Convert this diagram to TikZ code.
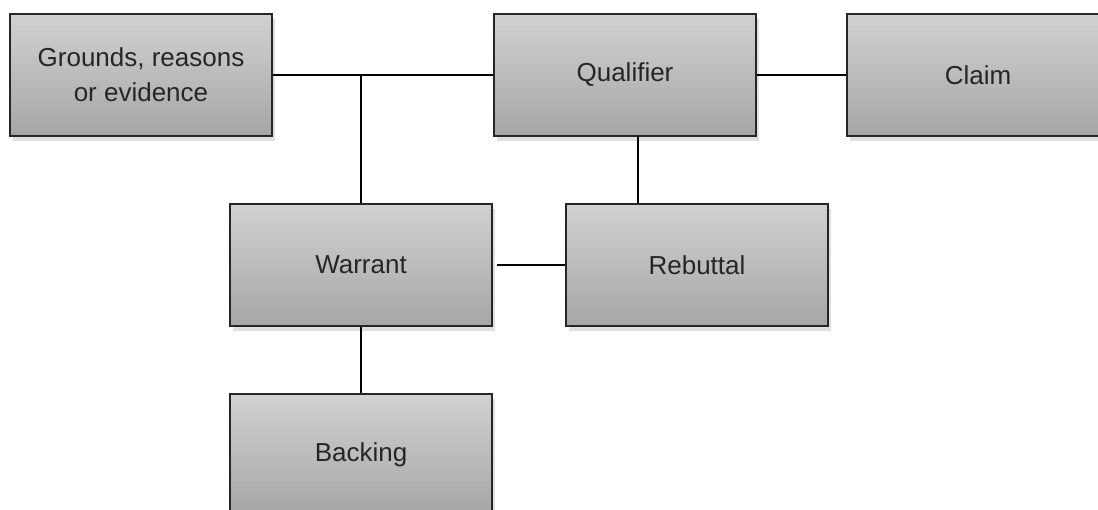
\documentclass[tikz,border=0pt]{standalone}
\usepackage{fontspec}
\setmainfont{Liberation Sans}
\usetikzlibrary{shadows}
\begin{document}
\begin{tikzpicture}[x=1pt,y=-1pt,
   box/.style={draw=black!85,line width=1.4pt,top color=black!18,bottom color=black!35,
      minimum width=262pt,minimum height=122pt,align=center,text=black!85,
      font=\fontsize{26}{35}\selectfont,
      drop shadow={shadow xshift=3pt,shadow yshift=-5pt,opacity=0.25}},
   link/.style={line width=1.4pt}]
   % 範囲
   \useasboundingbox (0,0) rectangle (1098,510);

   % 箱
   \node[box] (grounds) at (141,75) {Grounds, reasons\\or evidence};
   \node[box] (qualifier) at (625,75) {Qualifier};
   \node[box] (claim) at (978,75) {Claim};
   \node[box] (warrant) at (361,265) {Warrant};
   \node[box] (rebuttal) at (697,265) {Rebuttal};
   \node[box] (backing) at (361,455) {Backing};

   % 線
   \draw[link] (grounds) -- (qualifier);
   \draw[link] (qualifier) -- (claim);
   \draw[link] (warrant.north) -- (warrant.north |- grounds.east);
   \coordinate (qfoot) at ([xshift=13pt]qualifier.south);
   \draw[link] (qfoot) -- (qfoot |- rebuttal.north);
   \draw[link,shorten <=4pt] (warrant) -- (rebuttal);
   \draw[link] (warrant) -- (backing);

\end{tikzpicture}
\end{document}
